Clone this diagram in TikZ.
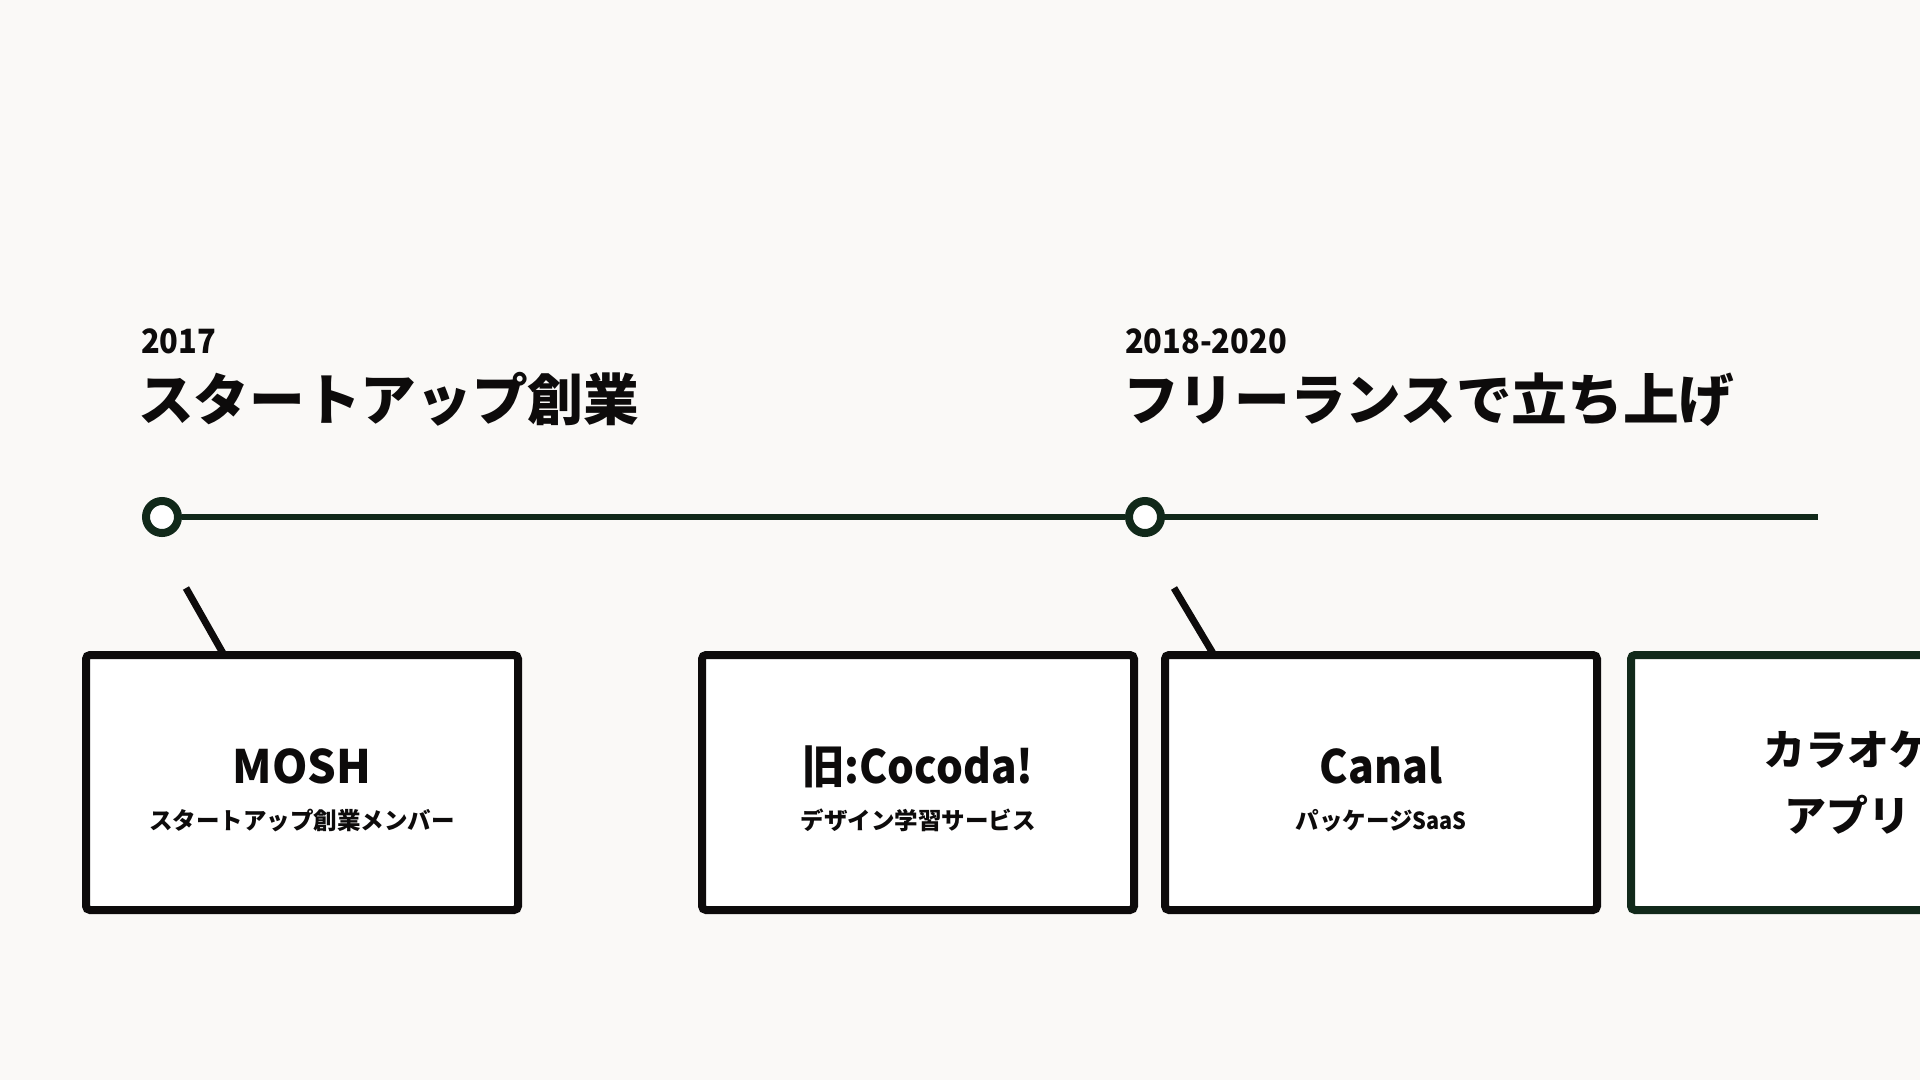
\documentclass[tikz,border=0pt]{standalone}
\usepackage{fontspec}
\usepackage{graphicx}
\setmainfont{Noto Sans CJK JP}
\definecolor{bg}{HTML}{FAF9F7}
\definecolor{tlgreen}{HTML}{11291A}
\definecolor{ink}{HTML}{0D0B0B}
\newcommand{\yearfont}{\fontsize{33.5}{36}\selectfont\bfseries}
\newcommand{\titlefont}{\fontsize{55.7}{60}\selectfont\bfseries}
\newcommand{\boxtitlefont}{\fontsize{46}{50}\selectfont\bfseries}
\newcommand{\boxsubfont}{\fontsize{23.5}{26}\selectfont\bfseries}
\newcommand{\karafont}{\fontsize{42}{44}\selectfont\bfseries}
\newcommand{\cond}[2]{\scalebox{#1}[1]{#2}}
\begin{document}
\begin{tikzpicture}[x=1pt,y=-1pt,
  txt/.style={inner sep=0pt, outer sep=0pt, text=ink},
  ring/.style={circle, draw=tlgreen, line width=8pt, fill=white, minimum size=32pt, inner sep=0pt},
  tl/.style={draw=tlgreen, line width=6pt},
  card/.style={rectangle, draw=ink, line width=8pt, fill=white, rounded corners=4pt,
    minimum width=432pt, minimum height=255pt, inner sep=0pt},
  greencard/.style={card, draw=tlgreen},
  tick/.style={draw=ink, line width=7pt}
]
\useasboundingbox (0,0) rectangle (1920,1080);
\clip (0,0) rectangle (1920,1080);
\fill[bg] (0,0) rectangle (1920,1080);

% period headers
\node[txt, anchor=base west, font=\yearfont] (y1) at (141,353) {\cond{0.92}{2017}};
\node[txt, anchor=base west, font=\titlefont] (t1) at (138,420) {スタートアップ創業};
\node[txt, anchor=base west, font=\yearfont] (y2) at (1125,353) {\cond{0.92}{2018-2020}};
\node[txt, anchor=base west, font=\titlefont] (t2) at (1123,420) {フリーランスで立ち上げ};

% timeline
\coordinate (lineend) at (1818,517);
\node[ring] (c1) at (162,517) {};
\node[ring] (c2) at (1145,517) {};
\draw[tl] (c1) -- (c2);
\draw[tl] (c2) -- (lineend);

% ticks
\coordinate (k1a) at (186,588);
\coordinate (k1b) at (224,655);
\coordinate (k2a) at (1174,588);
\coordinate (k2b) at (1214,655);
\draw[tick] (k1a) -- (k1b);
\draw[tick] (k2a) -- (k2b);

% cards
\node[card] (mosh) at (302,782.5) {};
\node[card] (cocoda) at (918,782.5) {};
\node[card] (canal) at (1381,782.5) {};
\node[greencard] (kara) at (1847,782.5) {};

\node[txt, anchor=base, font=\boxtitlefont] (moshT) at (302,783) {\cond{0.98}{MOSH}};
\node[txt, anchor=base, font=\boxsubfont] (moshS) at (302,829) {スタートアップ創業メンバー};
\node[txt, anchor=base, font=\boxtitlefont] (cocT) at (918,783) {\cond{0.92}{旧:Cocoda!}};
\node[txt, anchor=base, font=\boxsubfont] (cocS) at (918,829) {デザイン学習サービス};
\node[txt, anchor=base, font=\boxtitlefont] (canT) at (1381,783) {\cond{0.93}{Canal}};
\node[txt, anchor=base, font=\boxsubfont] (canS) at (1381,829) {パッケージ\cond{0.92}{SaaS}};
\node[txt, anchor=base, font=\karafont] (karaA) at (1847,765) {カラオケ};
\node[txt, anchor=base, font=\karafont] (karaB) at (1847,831) {アプリ};
\end{tikzpicture}
\end{document}
